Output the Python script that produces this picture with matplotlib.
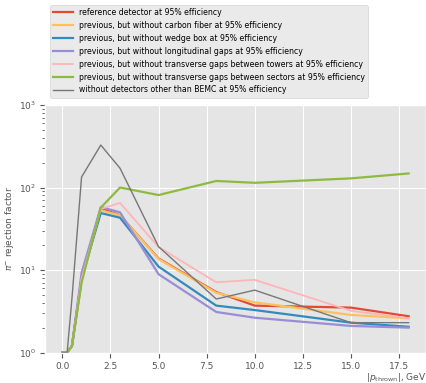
import matplotlib
matplotlib.use("Agg")
import matplotlib.pyplot as plt

plt.style.use("ggplot")

p = [0, 0.25, 0.5, 1, 2, 3, 5, 8, 10, 15, 18]

reference = [1, 1, 1.2, 7.6, 56, 46, 13.8, 5.4, 3.7, 3.5, 2.75]
no_carbon = [1, 1, 1.2, 7.6, 53, 46, 13.6, 5.3, 4.05, 2.85, 2.6]
no_wedge = [1, 1, 1.2, 8.0, 49, 43, 11.0, 3.7, 3.27, 2.3, 2.05]
no_long_gaps = [1, 1, 1.2, 9.2, 58, 50, 8.9, 3.1, 2.64, 2.1, 2.0]
no_tower_gaps = [1, 1, 1.2, 7.8, 55, 65, 19.0, 7.1, 7.6, 3.2, 2.6]
no_sector_gaps = [1, 1, 1.2, 7.0, 57, 100, 81, 120, 114, 129, 148]
bemc_only = [1, 1, 4.5, 134, 327, 171, 19.2, 4.45, 5.7, 2.3, 2.3]

labels = [
    "reference detector at 95% efficiency",
    "previous, but without carbon fiber at 95% efficiency",
    "previous, but without wedge box at 95% efficiency",
    "previous, but without longitudinal gaps at 95% efficiency",
    "previous, but without transverse gaps between towers at 95% efficiency",
    "previous, but without transverse gaps between sectors at 95% efficiency",
    "without detectors other than BEMC at 95% efficiency",
]
series = [reference, no_carbon, no_wedge, no_long_gaps, no_tower_gaps,
          no_sector_gaps, bemc_only]
colors = ["#E24A33", "#FBC15E", "#348ABD", "#988ED5", "#FFB5B8",
          "#8EBA42", "#777777"]
widths = [1.6, 1.6, 1.6, 1.6, 1.3, 1.6, 1.0]

fig = plt.figure(figsize=(4.26, 3.83), dpi=100)
ax = fig.add_axes([45 / 426, 1 - 352.5 / 383, 381 / 426, 247.5 / 383])

for y, lab, c, lw in zip(series, labels, colors, widths):
    ax.plot(p, y, color=c, lw=lw, label=lab)

ax.set_yscale("log")
ax.set_ylim(1, 1000)
ax.tick_params(labelsize=6.5, pad=3)
ax.set_ylabel(r"$\pi^{-}$ rejection factor", fontsize=6.5, labelpad=2)
ax.set_xlabel(r"$|p_{\mathrm{thrown}}|$, GeV", fontsize=6.5, loc="right",
              labelpad=0)

fig.legend(loc="upper left", bbox_to_anchor=(50 / 426, 1 - 5 / 383),
           borderaxespad=0, fontsize=5.6, handlelength=2.5)

fig.savefig("out.png", dpi=100)
